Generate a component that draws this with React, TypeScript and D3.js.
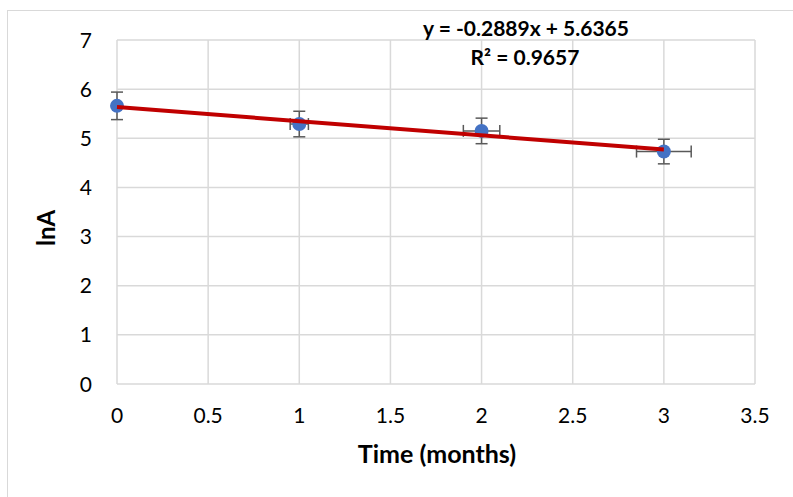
import React, { useRef, useEffect } from "react";
import * as d3 from "d3";

// measured points with error bars
const months = [0, 1, 2, 3];
const lnA = [5.66, 5.29, 5.15, 4.73];
const yErr = [0.28, 0.26, 0.26, 0.25];
const xErr = [0, 0.05, 0.1, 0.15];

const xTicks = [0, 0.5, 1, 1.5, 2, 2.5, 3, 3.5];
const yTicks = [0, 1, 2, 3, 4, 5, 6, 7];

const slope = -0.2889;
const intercept = 5.6365;
const eqLabel = "y = -0.2889x + 5.6365";
const r2Label = "R² = 0.9657";

const FONT = "Lato, 'Open Sans', sans-serif";

function App() {
  const svgRef = useRef<SVGSVGElement>(null);

  useEffect(() => {
    const svg = d3.select(svgRef.current);
    svg.selectAll("*").remove();

    const margin = { top: 40, right: 38, bottom: 113, left: 117 };
    const width = 793 - margin.left - margin.right;
    const height = 497 - margin.top - margin.bottom;

    // outer chart frame
    svg
      .append("rect")
      .attr("x", 7.5)
      .attr("y", 10.5)
      .attr("width", 800)
      .attr("height", 500)
      .attr("fill", "white")
      .attr("stroke", "#d9d9d9")
      .attr("stroke-width", 1);

    const x = d3.scaleLinear().domain([0, 3.5]).range([0, width]);
    const y = d3.scaleLinear().domain([0, 7]).range([height, 0]);

    const g = svg.append("g").attr("transform", `translate(${margin.left},${margin.top})`);

    // gridlines
    g.selectAll(".vg")
      .data(xTicks)
      .enter()
      .append("line")
      .attr("x1", (d) => x(d))
      .attr("x2", (d) => x(d))
      .attr("y1", 0)
      .attr("y2", height)
      .attr("stroke", "#d9d9d9")
      .attr("stroke-width", 1.5);

    g.selectAll(".hg")
      .data(yTicks)
      .enter()
      .append("line")
      .attr("x1", 0)
      .attr("x2", width)
      .attr("y1", (d) => y(d))
      .attr("y2", (d) => y(d))
      .attr("stroke", "#d9d9d9")
      .attr("stroke-width", 1.5);

    // tick labels
    g.selectAll(".xt")
      .data(xTicks)
      .enter()
      .append("text")
      .attr("x", (d) => x(d))
      .attr("y", height + 39)
      .attr("text-anchor", "middle")
      .style("font-family", FONT)
      .style("font-size", "21px")
      .style("fill", "#000")
      .text((d) => d);

    g.selectAll(".yt")
      .data(yTicks)
      .enter()
      .append("text")
      .attr("x", -25)
      .attr("y", (d) => y(d))
      .attr("dy", "0.36em")
      .attr("text-anchor", "end")
      .style("font-family", FONT)
      .style("font-size", "21px")
      .style("fill", "#000")
      .text((d) => d);

    // axis titles
    g.append("text")
      .attr("x", width / 2 + 1)
      .attr("y", height + 79)
      .attr("text-anchor", "middle")
      .style("font-family", FONT)
      .style("font-size", "25px")
      .style("font-weight", "bold")
      .text("Time (months)");

    g.append("text")
      .attr("transform", `translate(-62,${height / 2 + 16}) rotate(-90)`)
      .attr("text-anchor", "middle")
      .style("font-family", FONT)
      .style("font-size", "24px")
      .style("font-weight", "bold")
      .text("lnA");

    const pts = months.map((m, i) => ({ x: m, y: lnA[i], ey: yErr[i], ex: xErr[i] }));
    const cap = 6;
    const errColor = "#595959";

    // error bars
    pts.forEach((p) => {
      const eg = g.append("g").attr("stroke", errColor).attr("stroke-width", 1.5);
      eg.append("line")
        .attr("x1", x(p.x)).attr("x2", x(p.x))
        .attr("y1", y(p.y + p.ey)).attr("y2", y(p.y - p.ey));
      [p.y + p.ey, p.y - p.ey].forEach((v) => {
        eg.append("line")
          .attr("x1", x(p.x) - cap).attr("x2", x(p.x) + cap)
          .attr("y1", y(v)).attr("y2", y(v));
      });
      if (p.ex > 0) {
        eg.append("line")
          .attr("x1", x(p.x - p.ex)).attr("x2", x(p.x + p.ex))
          .attr("y1", y(p.y)).attr("y2", y(p.y));
        [p.x - p.ex, p.x + p.ex].forEach((v) => {
          eg.append("line")
            .attr("x1", x(v)).attr("x2", x(v))
            .attr("y1", y(p.y) - cap).attr("y2", y(p.y) + cap);
        });
      }
    });

    // points
    g.selectAll(".pt")
      .data(pts)
      .enter()
      .append("circle")
      .attr("cx", (d) => x(d.x))
      .attr("cy", (d) => y(d.y))
      .attr("r", 7)
      .attr("fill", "#4472C4");

    // trend line
    g.append("line")
      .attr("x1", x(0))
      .attr("y1", y(intercept))
      .attr("x2", x(3))
      .attr("y2", y(slope * 3 + intercept))
      .attr("stroke", "#C00000")
      .attr("stroke-width", 4);

    // equation label
    svg.append("text")
      .attr("x", 526)
      .attr("y", 36)
      .attr("text-anchor", "middle")
      .style("font-family", FONT)
      .style("font-size", "21px")
      .style("font-weight", "bold")
      .text(eqLabel);

    svg.append("text")
      .attr("x", 525)
      .attr("y", 65)
      .attr("text-anchor", "middle")
      .style("font-family", FONT)
      .style("font-size", "21px")
      .style("font-weight", "bold")
      .text(r2Label);
  }, []);

  return (
    <svg
      ref={svgRef}
      width={793}
      height={497}
      style={{ position: "absolute", left: 0, top: 0, display: "block" }}
    />
  );
}

export default App;
